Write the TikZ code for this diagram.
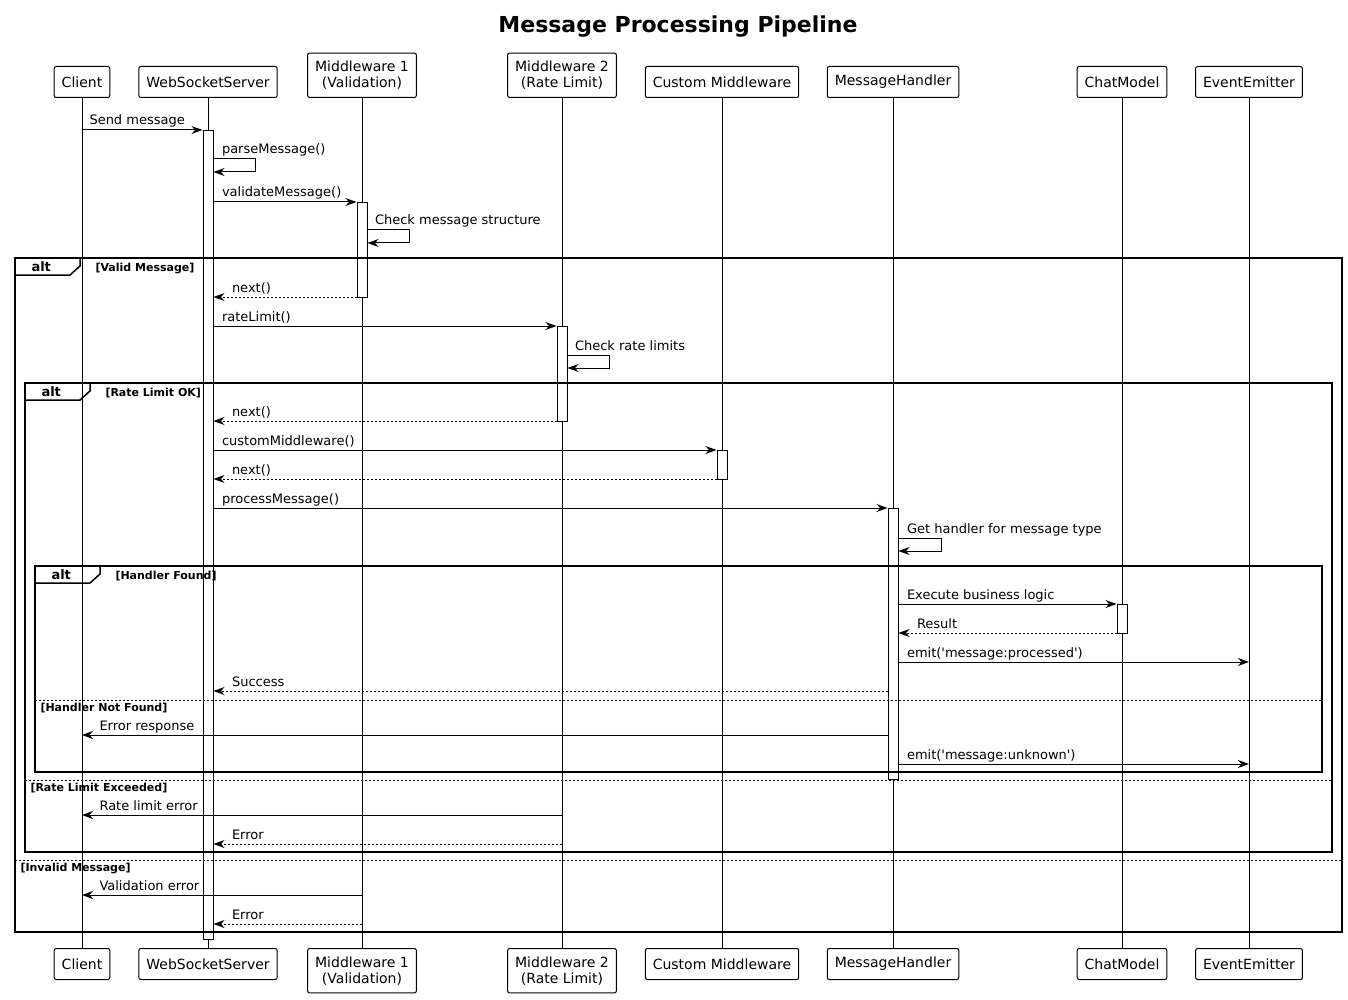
\documentclass[tikz,border=0pt]{standalone}
\usepackage{fontspec}
\setmainfont{DejaVu Sans}
\usetikzlibrary{arrows.meta, positioning}

\begin{document}
\begin{tikzpicture}[x=1pt, y=-1pt, line width=1pt,
  head/.style={rectangle, draw, rounded corners=2pt, fill=white, align=center, minimum height=31pt, inner xsep=7.5pt, inner ysep=8pt, font=\fontsize{14}{16}\selectfont},
  act/.style={rectangle, draw, fill=white, minimum width=10pt, inner sep=0pt, anchor=north},
  msg/.style={-{Stealth[length=11pt, width=8pt, inset=3.5pt]}},
  ret/.style={msg, dash pattern=on 2pt off 2pt},
  lbl/.style={anchor=base west, inner sep=0pt, font=\fontsize{13}{15}\selectfont},
  frame/.style={draw, line width=1.5pt},
  sep/.style={line width=0.8pt, dash pattern=on 2pt off 2pt},
  altlbl/.style={anchor=base west, inner sep=0pt, font=\bfseries\fontsize{13}{15}\selectfont},
  guard/.style={anchor=base west, inner sep=0pt, font=\bfseries\fontsize{11}{13}\selectfont}
]
  \useasboundingbox (0,0) rectangle (1348,1000);

  \node[font=\bfseries\fontsize{22}{26}\selectfont] (title) at (678,27) {Message Processing Pipeline};

  % participants (top and bottom)
  \node[head, anchor=south] (client) at (82,98) {Client};
  \node[head, anchor=south] (wss) at (208,98) {WebSocketServer};
  \node[head, anchor=south] (mw1) at (362,98) {Middleware 1\\(Validation)};
  \node[head, anchor=south] (mw2) at (562,98) {Middleware 2\\(Rate Limit)};
  \node[head, anchor=south] (custom) at (722,98) {Custom Middleware};
  \node[head, anchor=south] (handler) at (893,98) {MessageHandler};
  \node[head, anchor=south] (chat) at (1122,98) {ChatModel};
  \node[head, anchor=south] (emitter) at (1249,98) {EventEmitter};

  \node[head, anchor=north] (client2) at (82,948) {Client};
  \node[head, anchor=north] (wss2) at (208,948) {WebSocketServer};
  \node[head, anchor=north] (mw12) at (362,948) {Middleware 1\\(Validation)};
  \node[head, anchor=north] (mw22) at (562,948) {Middleware 2\\(Rate Limit)};
  \node[head, anchor=north] (custom2) at (722,948) {Custom Middleware};
  \node[head, anchor=north] (handler2) at (893,948) {MessageHandler};
  \node[head, anchor=north] (chat2) at (1122,948) {ChatModel};
  \node[head, anchor=north] (emitter2) at (1249,948) {EventEmitter};

  % lifelines
  \draw (client) -- (client2);
  \draw (wss) -- (wss2);
  \draw (mw1) -- (mw12);
  \draw (mw2) -- (mw22);
  \draw (custom) -- (custom2);
  \draw (handler) -- (handler2);
  \draw (chat) -- (chat2);
  \draw (emitter) -- (emitter2);

  % activations
  \node[act, minimum height=809pt] (aWSS) at (208,130) {};
  \node[act, minimum height=95pt] (aMW1) at (362,202) {};
  \node[act, minimum height=95pt] (aMW2) at (562,326) {};
  \node[act, minimum height=29pt] (aCustom) at (722,450) {};
  \node[act, minimum height=271pt] (aHandler) at (893,508) {};
  \node[act, minimum height=29pt] (aChat) at (1122,604) {};

  % alt frames
  \draw[frame] (15,258) rectangle (1342,932);
  \draw[frame] (15,275) -- (70,275) -- (80,266) -- (80,258);
  \node[altlbl] (alt1) at (31,271) {alt};
  \node[guard] (g1) at (95,271) {[Valid Message]};
  \draw[sep] (15,860) -- (1342,860);
  \node[guard] (g1b) at (20,871) {[Invalid Message]};

  \draw[frame] (25,383) rectangle (1332,852);
  \draw[frame] (25,400) -- (80,400) -- (90,391) -- (90,383);
  \node[altlbl] (alt2) at (41,396) {alt};
  \node[guard] (g2) at (105,396) {[Rate Limit OK]};
  \draw[sep] (25,780) -- (1332,780);
  \node[guard] (g2b) at (30,791) {[Rate Limit Exceeded]};

  \draw[frame] (35,566) rectangle (1322,772);
  \draw[frame] (35,583) -- (90,583) -- (100,574) -- (100,566);
  \node[altlbl] (alt3) at (51,579) {alt};
  \node[guard] (g3) at (115,579) {[Handler Found]};
  \draw[sep] (35,700) -- (1322,700);
  \node[guard] (g3b) at (40,711) {[Handler Not Found]};

  % messages
  \draw[msg] (client |- 0,130) -- node[lbl, at start, xshift=7pt, yshift=5pt] {Send message} (aWSS.west |- 0,130);
  \draw[msg] (aWSS.east |- 0,159) node[lbl, xshift=8pt, yshift=5pt] {parseMessage()} -- ++(42,0) -- ++(0,13) -- (aWSS.east |- 0,172);
  \draw[msg] (aWSS.east |- 0,202) -- node[lbl, at start, xshift=8pt, yshift=5pt] {validateMessage()} (aMW1.west |- 0,202);
  \draw[msg] (aMW1.east |- 0,230) node[lbl, xshift=7pt, yshift=5pt] {Check message structure} -- ++(42,0) -- ++(0,13) -- (aMW1.east |- 0,243);
  \draw[ret] (aMW1.west |- 0,297) -- node[lbl, at end, xshift=18pt, yshift=5pt] {next()} (aWSS.east |- 0,297);
  \draw[msg] (aWSS.east |- 0,326) -- node[lbl, at start, xshift=8pt, yshift=5pt] {rateLimit()} (aMW2.west |- 0,326);
  \draw[msg] (aMW2.east |- 0,355) node[lbl, xshift=7pt, yshift=5pt] {Check rate limits} -- ++(42,0) -- ++(0,13) -- (aMW2.east |- 0,368);
  \draw[ret] (aMW2.west |- 0,421) -- node[lbl, at end, xshift=18pt, yshift=5pt] {next()} (aWSS.east |- 0,421);
  \draw[msg] (aWSS.east |- 0,450) -- node[lbl, at start, xshift=8pt, yshift=5pt] {customMiddleware()} (aCustom.west |- 0,450);
  \draw[ret] (aCustom.west |- 0,479) -- node[lbl, at end, xshift=18pt, yshift=5pt] {next()} (aWSS.east |- 0,479);
  \draw[msg] (aWSS.east |- 0,508) -- node[lbl, at start, xshift=8pt, yshift=5pt] {processMessage()} (aHandler.west |- 0,508);
  \draw[msg] (aHandler.east |- 0,538) node[lbl, xshift=8pt, yshift=5pt] {Get handler for message type} -- ++(43,0) -- ++(0,13) -- (aHandler.east |- 0,551);
  \draw[msg] (aHandler.east |- 0,604) -- node[lbl, at start, xshift=8pt, yshift=5pt] {Execute business logic} (aChat.west |- 0,604);
  \draw[ret] (aChat.west |- 0,633) -- node[lbl, at end, xshift=18pt, yshift=5pt] {Result} (aHandler.east |- 0,633);
  \draw[msg] (aHandler.east |- 0,662) -- node[lbl, at start, xshift=8pt, yshift=5pt] {emit(\textquotesingle message:processed\textquotesingle)} (emitter |- 0,662);
  \draw[ret] (aHandler.west |- 0,691) -- node[lbl, at end, xshift=18pt, yshift=5pt] {Success} (aWSS.east |- 0,691);
  \draw[msg] (aHandler.west |- 0,735) -- node[lbl, at end, xshift=17pt, yshift=5pt] {Error response} (client |- 0,735);
  \draw[msg] (aHandler.east |- 0,764) -- node[lbl, at start, xshift=8pt, yshift=5pt] {emit(\textquotesingle message:unknown\textquotesingle)} (emitter |- 0,764);
  \draw[msg] (mw2 |- 0,815) -- node[lbl, at end, xshift=17pt, yshift=5pt] {Rate limit error} (client |- 0,815);
  \draw[ret] (mw2 |- 0,844) -- node[lbl, at end, xshift=18pt, yshift=5pt] {Error} (aWSS.east |- 0,844);
  \draw[msg] (mw1 |- 0,895) -- node[lbl, at end, xshift=17pt, yshift=5pt] {Validation error} (client |- 0,895);
  \draw[ret] (mw1 |- 0,924) -- node[lbl, at end, xshift=18pt, yshift=5pt] {Error} (aWSS.east |- 0,924);
\end{tikzpicture}
\end{document}
